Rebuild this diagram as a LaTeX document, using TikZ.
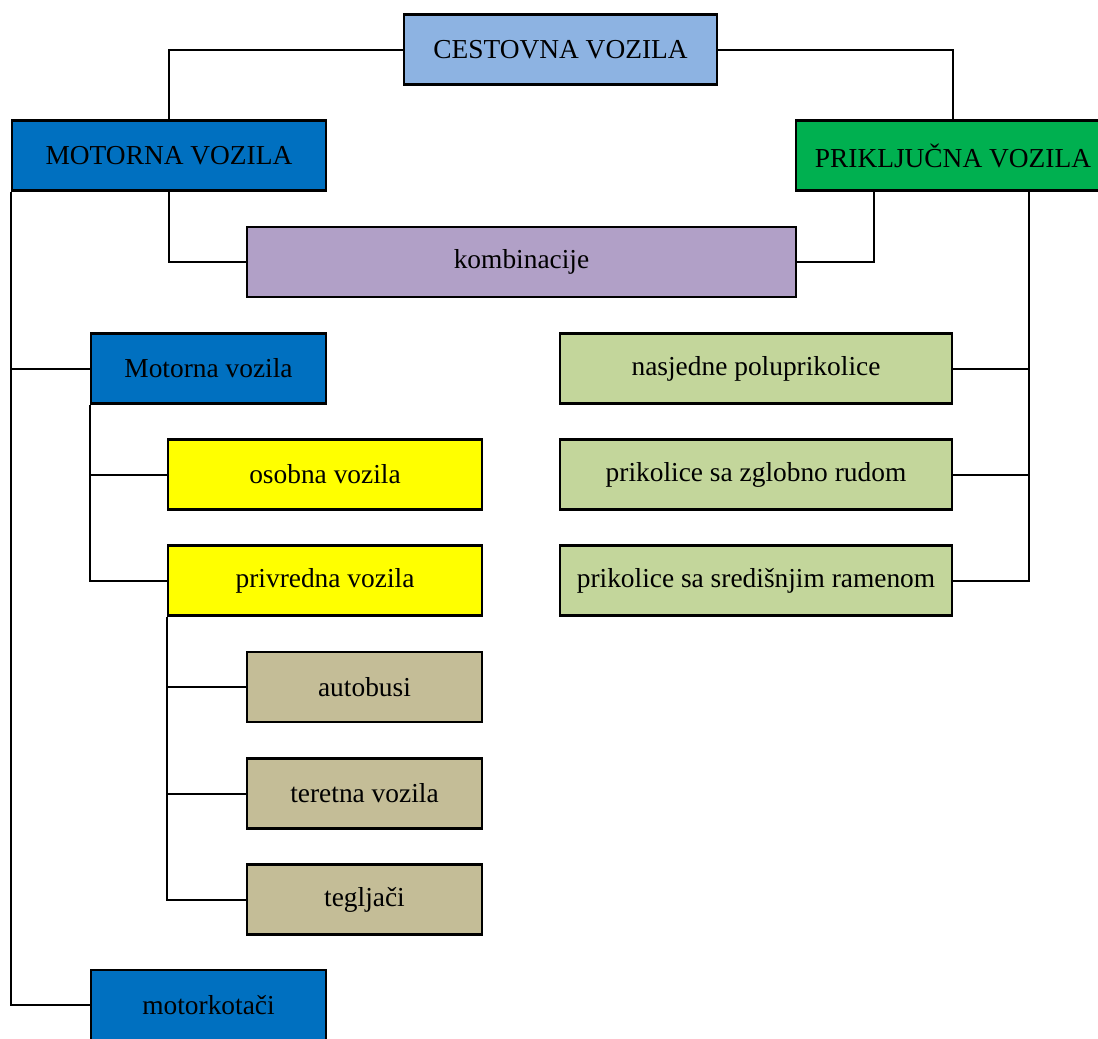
\documentclass[tikz,border=0pt]{standalone}
\usepackage{fontspec}
\setmainfont{Liberation Serif}
\usepackage{tikz}

\definecolor{cestblue}{HTML}{8DB3E2}
\definecolor{motblue}{HTML}{0070C0}
\definecolor{prikgreen}{HTML}{00B050}
\definecolor{kombpurple}{HTML}{B1A0C7}
\definecolor{privyellow}{HTML}{FFFF00}
\definecolor{gospbrown}{HTML}{C4BD97}
\definecolor{trailgreen}{HTML}{C3D69B}

\begin{document}
\begin{tikzpicture} [x=0.5pt, y=-0.5pt,
  box/.style={draw, line width=1.2pt, inner sep=0pt, minimum height=35pt,
    font=\fontsize{13.7}{16}\selectfont},
  link/.style={line width=1pt}]

\useasboundingbox (0,0) rectangle (1098,1039);
%\draw [help lines, step=10](0,0) grid (1098,1039);

\node [box, fill=cestblue, minimum width=156.5pt] (cest) at (560.5,49.5) {CESTOVNA VOZILA};
\node [box, fill=motblue, minimum width=157pt] (motv) at (169,155.5) {MOTORNA VOZILA};
\node [box, fill=prikgreen, minimum width=157pt] (prik) at (953,155.5) {PRIKLJUČNA VOZILA};
\node [box, fill=kombpurple, minimum width=274.5pt] (komb) at (521.5,262) {kombinacije};

\node [box, fill=motblue, minimum width=117.5pt] (motv2) at (208.5,368.5) {Motorna vozila};
\node [box, fill=privyellow, minimum width=157pt] (osob) at (325,474.5) {osobna vozila};
\node [box, fill=privyellow, minimum width=157pt] (privr) at (325,580.5) {privredna vozila};
\node [box, fill=gospbrown, minimum width=117.5pt] (autob) at (364.5,687) {autobusi};
\node [box, fill=gospbrown, minimum width=117.5pt] (teret) at (364.5,793.5) {teretna vozila};
\node [box, fill=gospbrown, minimum width=117.5pt] (teglj) at (364.5,899.5) {tegljači};
\node [box, fill=motblue, minimum width=117.5pt] (motork) at (208.5,1005) {motorkotači};

\node [box, fill=trailgreen, minimum width=196pt] (nasj) at (756,368.5) {nasjedne poluprikolice};
\node [box, fill=trailgreen, minimum width=196pt] (zglob) at (756,474.5) {prikolice sa zglobno rudom};
\node [box, fill=trailgreen, minimum width=196pt] (sred) at (756,580.5) {prikolice sa središnjim ramenom};

\draw [link] (cest.west) -| (motv.north);
\draw [link] (cest.east) -| (prik.north);
\draw [link] (motv.south) |- (komb.west);
\draw [link] ([xshift=39.5pt]prik.south west) |- (komb.east);

\draw [link] (motv.south west) |- (motork.west);
\draw [link] (motv2.west -| motv.south west) -- (motv2.west);
\draw [link] (motv2.south west) |- (privr.west);
\draw [link] (osob.west -| motv2.south west) -- (osob.west);
\draw [link] (privr.south west) |- (teglj.west);
\draw [link] (autob.west -| privr.south west) -- (autob.west);
\draw [link] (teret.west -| privr.south west) -- (teret.west);

\coordinate (ptrunk) at ([xshift=117pt]prik.south west);
\draw [link] (ptrunk) |- (sred.east);
\draw [link] (nasj.east) -- (nasj.east -| ptrunk);
\draw [link] (zglob.east) -- (zglob.east -| ptrunk);

\end{tikzpicture}
\end{document}
